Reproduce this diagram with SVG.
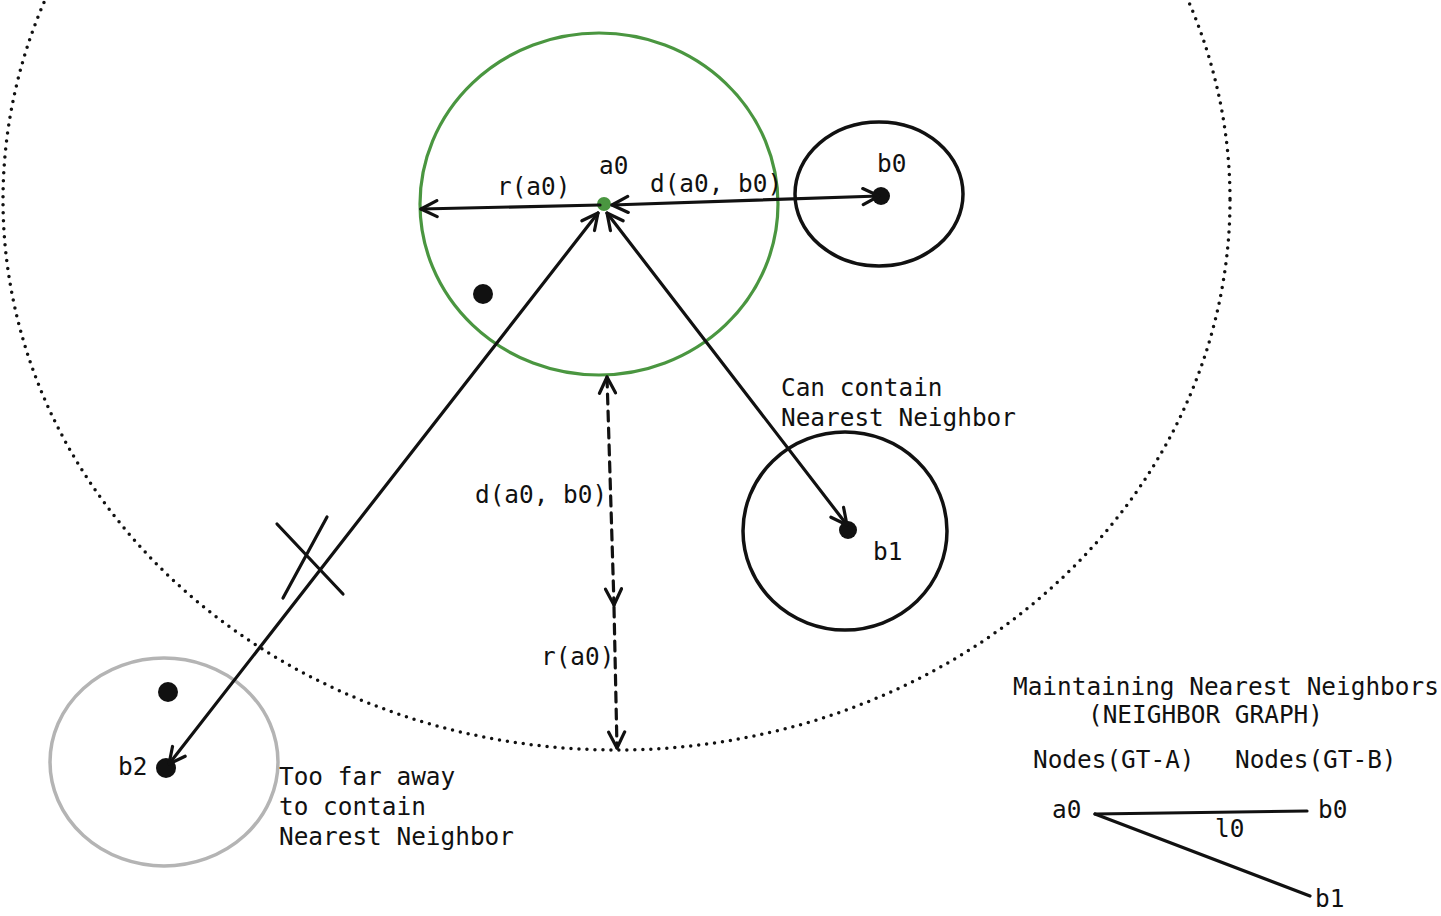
<svg xmlns="http://www.w3.org/2000/svg" width="1441" height="916" viewBox="0 0 1441 916">
<style>
text{font-family:"DejaVu Sans Mono","Liberation Mono",monospace;font-size:24.4px;fill:#111}
.ln{stroke:#111;stroke-width:3.2;fill:none;stroke-linecap:round}
.dot{fill:#111}
</style>
<defs>
<marker id="arr" viewBox="0 0 20 20" refX="18" refY="10" markerWidth="20" markerHeight="20" markerUnits="userSpaceOnUse" orient="auto-start-reverse">
<path d="M2,2 L18,10 L2,18" fill="none" stroke="#111" stroke-width="3.2" stroke-linecap="round" stroke-linejoin="round"/>
</marker>
</defs>
<rect width="1441" height="916" fill="#fff"/>
<g id="search-region">
<ellipse cx="616.5" cy="200" rx="613.5" ry="550" fill="none" stroke="#111" stroke-width="3.5" stroke-linecap="round" stroke-dasharray="0 8"/>
</g>
<g id="node-a0">
<ellipse cx="599" cy="204" rx="179" ry="171" fill="none" stroke="#4a9640" stroke-width="3.2"/>
<circle cx="604" cy="204" r="7" fill="#4a9640"/>
<circle class="dot" cx="483" cy="294" r="10"/>
<text x="599" y="174">a0</text>
</g>
<g id="node-b0">
<ellipse cx="879" cy="194" rx="84" ry="72" fill="none" stroke="#111" stroke-width="3.5"/>
<circle class="dot" cx="881" cy="196" r="9"/>
<text x="877" y="172">b0</text>
</g>
<g id="node-b1">
<ellipse cx="845" cy="531" rx="102" ry="99" fill="none" stroke="#111" stroke-width="3.5"/>
<circle class="dot" cx="848" cy="530" r="9"/>
<text x="873" y="560">b1</text>
</g>
<g id="node-b2">
<ellipse cx="164" cy="762" rx="114" ry="104" fill="none" stroke="#b4b4b4" stroke-width="3.5"/>
<circle class="dot" cx="166" cy="768" r="10"/>
<circle class="dot" cx="168" cy="692" r="10"/>
<text x="118" y="775">b2</text>
</g>
<g id="connectors">
<line class="ln" x1="600" y1="205" x2="421" y2="209" marker-end="url(#arr)"/>
<line class="ln" x1="612" y1="205" x2="879" y2="196" marker-start="url(#arr)" marker-end="url(#arr)"/>
<line class="ln" x1="607" y1="213" x2="847" y2="525" marker-start="url(#arr)" marker-end="url(#arr)"/>
<line class="ln" x1="598" y1="213" x2="169" y2="764" marker-start="url(#arr)" marker-end="url(#arr)"/>
<line class="ln" x1="607" y1="377" x2="614" y2="605" stroke-dasharray="10 7" marker-start="url(#arr)" marker-end="url(#arr)"/>
<line class="ln" x1="614" y1="607" x2="617" y2="748" stroke-dasharray="10 7" marker-end="url(#arr)"/>
<line class="ln" x1="277" y1="524" x2="343" y2="594"/>
<line class="ln" x1="327" y1="517" x2="283" y2="598"/>
</g>
<g id="labels">
<text x="497" y="195">r(a0)</text>
<text x="650" y="192">d(a0, b0)</text>
<text x="475" y="503">d(a0, b0)</text>
<text x="541" y="665">r(a0)</text>
<text x="781" y="396">Can contain</text>
<text x="781" y="426">Nearest Neighbor</text>
<text x="279" y="785">Too far away</text>
<text x="279" y="815">to contain</text>
<text x="279" y="845">Nearest Neighbor</text>
</g>
<g id="neighbor-graph">
<text x="1013" y="695">Maintaining Nearest Neighbors</text>
<text x="1088" y="723">(NEIGHBOR GRAPH)</text>
<text x="1033" y="768">Nodes(GT-A)</text>
<text x="1235" y="768">Nodes(GT-B)</text>
<text x="1052" y="818">a0</text>
<text x="1318" y="818">b0</text>
<text x="1215" y="837">l0</text>
<text x="1315" y="907">b1</text>
<line class="ln" x1="1095" y1="814" x2="1307" y2="811"/>
<line class="ln" x1="1095" y1="814" x2="1310" y2="896"/>
</g>
</svg>
